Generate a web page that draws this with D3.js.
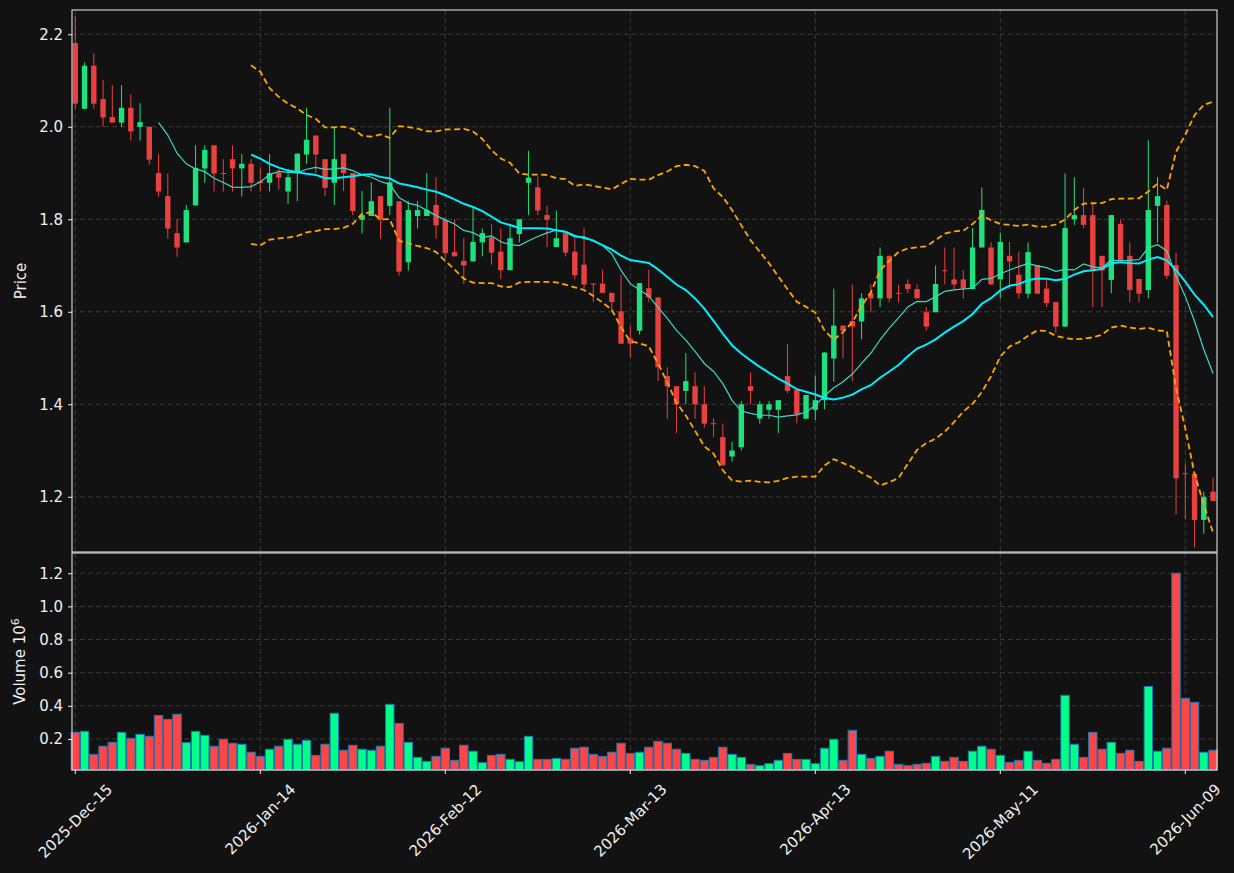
<!DOCTYPE html>
<html>
<head>
<meta charset="utf-8">
<script src="https://cdn.jsdelivr.net/npm/d3@7"></script>
<style>
  body { margin: 0; background: #121212; }
  svg text { font-family: "DejaVu Sans", sans-serif; }
</style>
</head>
<body>
<div id="chart"></div>
<script>
// daily candles (index 0 = 2025-Dec-15)
const opens = [2.181,2.039,2.132,2.060,2.021,2.009,2.041,2.000,2.000,1.900,
  1.850,1.770,1.750,1.830,1.910,1.960,1.900,1.930,1.910,1.920,
  1.882,1.879,1.901,1.860,1.900,1.940,1.981,1.930,1.879,1.941,
  1.900,1.799,1.807,1.850,1.829,1.839,1.707,1.807,1.807,1.831,
  1.799,1.729,1.710,1.709,1.750,1.761,1.730,1.690,1.768,1.879,
  1.869,1.809,1.740,1.770,1.730,1.702,1.661,1.661,1.641,1.601,
  1.542,1.559,1.651,1.631,1.461,1.439,1.429,1.439,1.400,1.359,
  1.329,1.287,1.307,1.439,1.369,1.388,1.388,1.461,1.431,1.369,
  1.388,1.409,1.499,1.570,1.580,1.579,1.640,1.629,1.721,1.641,
  1.660,1.649,1.599,1.599,1.690,1.670,1.670,1.649,1.739,1.739,
  1.670,1.721,1.680,1.639,1.701,1.650,1.621,1.568,1.800,1.809,
  1.809,1.721,1.669,1.790,1.721,1.671,1.647,1.829,1.831,1.701,
  1.251,1.250,1.150,1.211]
const highs = [2.240,2.139,2.159,2.101,2.090,2.090,2.070,2.051,2.000,1.941,
  1.899,1.800,1.831,1.960,1.960,1.960,1.930,1.960,1.941,1.930,
  1.912,1.941,1.909,1.909,1.942,2.041,1.981,1.930,1.999,1.941,
  1.900,1.861,1.880,1.850,2.041,1.839,1.839,1.839,1.900,1.891,
  1.805,1.800,1.759,1.826,1.780,1.789,1.780,1.788,1.800,1.948,
  1.893,1.829,1.819,1.770,1.759,1.781,1.661,1.691,1.641,1.680,
  1.569,1.662,1.691,1.631,1.480,1.439,1.511,1.469,1.439,1.369,
  1.358,1.319,1.407,1.469,1.407,1.407,1.409,1.530,1.431,1.420,
  1.462,1.512,1.650,1.570,1.659,1.640,1.659,1.739,1.721,1.659,
  1.670,1.659,1.610,1.700,1.739,1.739,1.690,1.781,1.869,1.750,
  1.771,1.751,1.730,1.750,1.701,1.669,1.621,1.899,1.891,1.868,
  1.835,1.721,1.809,1.799,1.750,1.671,1.971,1.891,1.840,1.728,
  1.272,1.250,1.211,1.241]
const lows = [2.039,2.038,2.039,2.000,2.009,2.000,1.970,1.970,1.918,1.849,
  1.758,1.719,1.750,1.830,1.879,1.860,1.860,1.860,1.849,1.860,
  1.860,1.860,1.864,1.833,1.839,1.920,1.900,1.850,1.831,1.861,
  1.809,1.769,1.807,1.758,1.809,1.678,1.689,1.780,1.807,1.758,
  1.716,1.720,1.660,1.709,1.720,1.702,1.671,1.690,1.750,1.809,
  1.809,1.740,1.740,1.720,1.670,1.650,1.621,1.641,1.601,1.531,
  1.501,1.551,1.621,1.450,1.369,1.338,1.400,1.369,1.349,1.329,
  1.268,1.276,1.300,1.400,1.358,1.369,1.338,1.424,1.359,1.368,
  1.366,1.389,1.449,1.499,1.450,1.541,1.599,1.610,1.620,1.620,
  1.640,1.629,1.559,1.599,1.659,1.649,1.629,1.649,1.739,1.659,
  1.629,1.649,1.629,1.629,1.639,1.610,1.554,1.568,1.788,1.781,
  1.610,1.610,1.640,1.711,1.620,1.620,1.629,1.750,1.671,1.162,
  1.151,1.090,1.120,1.191]
const closes = [2.050,2.132,2.050,2.020,2.009,2.041,1.990,2.010,1.929,1.860,
  1.780,1.739,1.820,1.911,1.950,1.899,1.899,1.910,1.920,1.879,
  1.878,1.900,1.890,1.891,1.942,1.972,1.940,1.868,1.930,1.900,
  1.818,1.809,1.839,1.799,1.880,1.687,1.820,1.820,1.820,1.787,
  1.727,1.720,1.700,1.751,1.770,1.728,1.690,1.759,1.800,1.890,
  1.819,1.799,1.759,1.728,1.679,1.659,1.660,1.641,1.621,1.531,
  1.531,1.662,1.631,1.480,1.439,1.400,1.450,1.400,1.358,1.358,
  1.268,1.300,1.400,1.429,1.400,1.400,1.409,1.429,1.378,1.420,
  1.409,1.512,1.570,1.559,1.568,1.629,1.629,1.721,1.629,1.640,
  1.649,1.629,1.568,1.660,1.689,1.659,1.649,1.739,1.820,1.659,
  1.751,1.709,1.640,1.729,1.639,1.619,1.568,1.781,1.809,1.788,
  1.689,1.689,1.809,1.711,1.647,1.639,1.820,1.850,1.678,1.240,
  1.250,1.150,1.200,1.191]
// volume in millions
const volumes = [0.240,0.246,0.107,0.156,0.180,0.240,0.204,0.228,0.216,0.342,
  0.318,0.349,0.178,0.246,0.222,0.156,0.198,0.174,0.168,0.120,
  0.095,0.138,0.156,0.198,0.168,0.192,0.101,0.168,0.355,0.132,
  0.162,0.138,0.132,0.156,0.409,0.294,0.180,0.089,0.065,0.095,
  0.144,0.071,0.162,0.126,0.057,0.101,0.107,0.077,0.063,0.216,
  0.077,0.077,0.083,0.077,0.144,0.150,0.107,0.095,0.120,0.174,
  0.113,0.120,0.150,0.186,0.174,0.138,0.113,0.077,0.071,0.089,
  0.150,0.107,0.089,0.047,0.039,0.051,0.071,0.113,0.077,0.077,
  0.051,0.144,0.198,0.071,0.252,0.107,0.083,0.095,0.126,0.047,
  0.039,0.047,0.053,0.095,0.065,0.089,0.065,0.126,0.156,0.138,
  0.101,0.059,0.071,0.126,0.071,0.053,0.077,0.463,0.168,0.089,
  0.240,0.138,0.180,0.113,0.132,0.065,0.517,0.126,0.144,1.200,
  0.445,0.421,0.120,0.132]

const tickIdx = [0, 20, 40, 60, 80, 100, 120]
const tickLabels = ["2025-Dec-15", "2026-Jan-14", "2026-Feb-12", "2026-Mar-13",
  "2026-Apr-13", "2026-May-11", "2026-Jun-09"]
const priceTicks = [1.2, 1.4, 1.6, 1.8, 2.0, 2.2]
const volTicks = [0.2, 0.4, 0.6, 0.8, 1.0, 1.2]

const UP = "#1ee07c", DOWN = "#e8413f"
const VUP = "#00ff88", VDOWN = "#ff4646"
const FG = "#f0f0f0", GRID = "#3e3e3e"
const FONT = 15

const W = 1234, H = 873
const PANEL = { LEFT: 72, RIGHT: 1217, TOP: 10, MID: 552, VTOP: 553, BOTTOM: 770 }

// rolling indicators from the closes
function rolling(arr, n, f) {
  return arr.map((_, i) => i < n - 1 ? null : f(arr.slice(i - n + 1, i + 1)))
}
const ma10 = rolling(closes, 10, d3.mean)
const ma20 = rolling(closes, 20, d3.mean)
const sd20 = rolling(closes, 20, a => Math.sqrt(d3.variance(a) * (a.length - 1) / a.length))
const bbUp = ma20.map((m, i) => m == null ? null : m + 2 * sd20[i])
const bbLo = ma20.map((m, i) => m == null ? null : m - 2 * sd20[i])

const svg = d3.select("#chart").append("svg")
  .attr("width", W).attr("height", H)
  .style("background", "#121212")

const x = d3.scaleLinear().domain([-0.357, 123.427]).range([PANEL.LEFT, PANEL.RIGHT])
const y = d3.scaleLinear().domain([1.0806, 2.2525]).range([PANEL.MID, PANEL.TOP])
const yv = d3.scaleLinear().domain([0.0127, 1.322]).range([PANEL.BOTTOM, PANEL.VTOP])

// grid
const grid = svg.append("g")
  .attr("stroke", GRID).attr("stroke-width", 0.9).attr("stroke-dasharray", "5,3")
tickIdx.forEach(i => {
  grid.append("line").attr("x1", x(i)).attr("x2", x(i))
    .attr("y1", PANEL.TOP).attr("y2", PANEL.MID)
  grid.append("line").attr("x1", x(i)).attr("x2", x(i))
    .attr("y1", PANEL.VTOP).attr("y2", PANEL.BOTTOM)
})
priceTicks.forEach(t => grid.append("line")
  .attr("x1", PANEL.LEFT).attr("x2", PANEL.RIGHT).attr("y1", y(t)).attr("y2", y(t)))
volTicks.forEach(t => grid.append("line")
  .attr("x1", PANEL.LEFT).attr("x2", PANEL.RIGHT).attr("y1", yv(t)).attr("y2", yv(t)))

// candles
const idx = d3.range(closes.length)
const bodyW = 5.4
const cg = svg.append("g")
cg.selectAll("line.wick").data(idx).join("line")
  .attr("class", "wick")
  .attr("x1", i => x(i)).attr("x2", i => x(i))
  .attr("y1", i => y(highs[i])).attr("y2", i => y(lows[i]))
  .attr("stroke", i => closes[i] >= opens[i] ? UP : DOWN)
  .attr("stroke-width", 1)
cg.selectAll("rect.body").data(idx).join("rect")
  .attr("class", "body")
  .attr("x", i => x(i) - bodyW / 2)
  .attr("width", bodyW)
  .attr("y", i => y(Math.max(opens[i], closes[i])))
  .attr("height", i => Math.max(1, Math.abs(y(opens[i]) - y(closes[i]))))
  .attr("fill", i => closes[i] >= opens[i] ? UP : DOWN)

// moving averages and bands
const line = arr => d3.line()
  .defined(i => arr[i] != null)
  .x(i => x(i)).y(i => y(arr[i]))(idx)
const lg = svg.append("g").attr("fill", "none")
lg.append("path").attr("d", line(ma10))
  .attr("stroke", "#40d6c4").attr("stroke-width", 1.2)
lg.append("path").attr("d", line(ma20))
  .attr("stroke", "#00eeff").attr("stroke-width", 2)
;[bbUp, bbLo].forEach(b => lg.append("path").attr("d", line(b))
  .attr("stroke", "#ffa500").attr("stroke-width", 1.8).attr("stroke-dasharray", "6,3.5"))

// volume bars
const barW = 8.4
svg.append("g").selectAll("rect").data(idx).join("rect")
  .attr("x", i => x(i) - barW / 2)
  .attr("width", barW)
  .attr("y", i => yv(volumes[i]))
  .attr("height", i => PANEL.BOTTOM - yv(volumes[i]))
  .attr("fill", i => closes[i] >= opens[i] ? VUP : VDOWN)
  .attr("stroke", "#1f77b4").attr("stroke-width", 1)

// frames
svg.append("rect").attr("x", PANEL.LEFT).attr("y", PANEL.TOP)
  .attr("width", PANEL.RIGHT - PANEL.LEFT).attr("height", PANEL.MID - PANEL.TOP)
  .attr("fill", "none").attr("stroke", FG).attr("stroke-width", 1)
svg.append("rect").attr("x", PANEL.LEFT).attr("y", PANEL.VTOP)
  .attr("width", PANEL.RIGHT - PANEL.LEFT).attr("height", PANEL.BOTTOM - PANEL.VTOP)
  .attr("fill", "none").attr("stroke", FG).attr("stroke-width", 1)

// y axes
function styleAxis(g) {
  g.select(".domain").remove()
  g.selectAll(".tick line").attr("stroke", FG)
  g.selectAll(".tick text").attr("fill", FG).attr("font-size", FONT)
    .attr("font-family", "DejaVu Sans")
}
svg.append("g").attr("transform", `translate(${PANEL.LEFT},0)`)
  .call(d3.axisLeft(y).tickValues(priceTicks).tickFormat(d3.format(".1f")).tickSize(4).tickPadding(5))
  .call(styleAxis)
svg.append("g").attr("transform", `translate(${PANEL.LEFT},0)`)
  .call(d3.axisLeft(yv).tickValues(volTicks).tickFormat(d3.format(".1f")).tickSize(4).tickPadding(5))
  .call(styleAxis)

// x axis ticks and rotated labels
const xg = svg.append("g")
tickIdx.forEach((i, k) => {
  xg.append("line").attr("x1", x(i)).attr("x2", x(i))
    .attr("y1", PANEL.BOTTOM).attr("y2", PANEL.BOTTOM + 4).attr("stroke", FG)
  const t = xg.append("text")
    .attr("fill", FG).attr("font-size", FONT)
    .attr("text-anchor", "middle").attr("dy", "0.35em")
    .text(tickLabels[k])
  const side = (t.node().getComputedTextLength() + 16) * Math.SQRT1_2
  t.attr("transform", `translate(${x(i)},${PANEL.BOTTOM + 11 + side / 2}) rotate(-45)`)
})

// axis titles
svg.append("text")
  .attr("transform", `translate(26,${(PANEL.TOP + PANEL.MID) / 2}) rotate(-90)`)
  .attr("text-anchor", "middle").attr("fill", FG).attr("font-size", FONT)
  .text("Price")
const vt = svg.append("text")
  .attr("transform", `translate(25,${(PANEL.VTOP + PANEL.BOTTOM) / 2}) rotate(-90)`)
  .attr("text-anchor", "middle").attr("fill", FG).attr("font-size", FONT)
vt.append("tspan").text("Volume  10")
vt.append("tspan").attr("baseline-shift", "super").attr("font-size", 11).text("6")
</script>
</body>
</html>
